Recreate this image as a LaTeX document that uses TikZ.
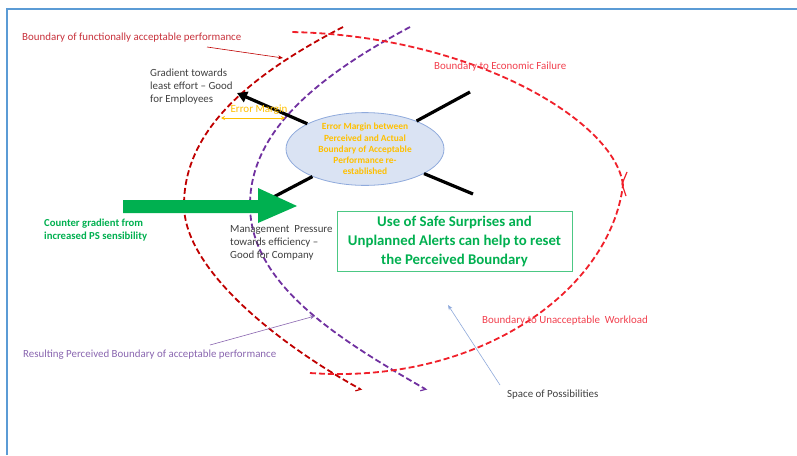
\documentclass[tikz,border=0pt]{standalone}
\usepackage{fontspec}
\setmainfont{Carlito}
\usetikzlibrary{arrows.meta,shapes.geometric}
\definecolor{dred}{HTML}{C00000}
\definecolor{dredtxt}{HTML}{C8323C}
\definecolor{bred}{HTML}{F0202A}
\definecolor{bredtxt}{HTML}{F2404E}
\definecolor{purp}{HTML}{7030A0}
\definecolor{purptxt}{HTML}{8A66B0}
\definecolor{gold}{HTML}{FFC000}
\definecolor{grn}{HTML}{00B050}
\definecolor{gtxt}{HTML}{404040}
\definecolor{bord}{HTML}{5B9BD5}
\definecolor{ellfill}{HTML}{DAE3F3}
\definecolor{elldraw}{HTML}{8FAADC}
\definecolor{lblue}{HTML}{8EA9DB}
\tikzset{
  dashcurve/.style={line width=1.8pt, dash pattern=on 6pt off 3pt, line cap=butt},
  harp/.style={-{Straight Barb[harpoon,swap,length=4pt,width=8pt,line width=1.2pt]}},
  spoke/.style={black, line width=3.2pt},
  lbl/.style={inner sep=0pt, anchor=west, font=\fontsize{10.9}{13}\selectfont},
  graytxt/.style={inner sep=0pt, align=left, text=gtxt, font=\fontsize{10.9}{13}\selectfont},
  thinarrow/.style={line width=0.6pt, -{Stealth[length=5pt,width=4pt]}}
}
\begin{document}
\begin{tikzpicture}[x=1pt,y=-1pt]
\useasboundingbox (0,0) rectangle (797,455);
\fill[white] (0,0) rectangle (797,455);
% frame
\draw[bord, line width=1.8pt] (7,455) -- (7,9) -- (797,9);

% curves
\draw[dred, dashcurve, harp] (343,27) .. controls (250,75) and (184,130) .. (184,205) .. controls (184,270) and (280,345) .. (362,390);
\draw[purp, dashcurve, harp] (410,27) .. controls (320,75) and (250,130) .. (250,205) .. controls (250,285) and (340,340) .. (427,390);
\draw[bred, dashcurve] (310,373) .. controls (480,385) and (610,290) .. (623,185);
\draw[bred, dashcurve] (623,185) .. controls (615,120) and (470,35) .. (290,32);
\draw[bred, line width=1.2pt] (627,172) -- (622,184) -- (626,196);

% ellipse
\node[ellipse, draw=elldraw, fill=ellfill, line width=0.8pt, minimum width=158pt, minimum height=72pt, inner sep=0pt, align=center, text=gold, font=\bfseries\fontsize{9.4}{11.2}\selectfont] (ell) at (365,149) {Error Margin between\\Perceived and Actual\\Boundary of Acceptable\\Performance re-\\established};

% spoke ends
\coordinate (nwend) at (237,93);
\coordinate (neend) at (470,92);
\coordinate (seend) at (473,194);
\coordinate (swend) at (245,212);
\draw[spoke, -{Triangle[length=10pt,width=11pt]}] (ell) -- (nwend);
\draw[spoke] (ell) -- (neend);
\draw[spoke] (ell) -- (seend);
\draw[spoke, -{Triangle[length=10pt,width=11pt]}] (ell) -- (swend);

% green arrow
\fill[grn] (123,200) -- (258,200) -- (258,188) -- (297,206) -- (258,223) -- (258,213) -- (123,213) -- cycle;

% texts
\node[lbl, text=dredtxt] (lfa) at (22,38) {Boundary of functionally acceptable performance};
\coordinate (lfa1) at (207,47);
\coordinate (lfa2) at (283,58);
\draw[dred, thinarrow] (lfa1) -- (lfa2);

\node[lbl, text=bredtxt] (lef) at (434,67) {Boundary to Economic Failure};
\node[lbl, text=bredtxt] (luw) at (482,321) {Boundary to Unacceptable\ \ Workload};

\node[lbl, text=purptxt] (lrp) at (23,355) {Resulting Perceived Boundary of acceptable performance};
\coordinate (lrp1) at (210,345);
\coordinate (lrp2) at (315,316);
\draw[purptxt, thinarrow] (lrp1) -- (lrp2);

\node[lbl, text=gtxt] (lsp) at (507,395) {Space of Possibilities};
\coordinate (lsp1) at (500,385);
\coordinate (lsp2) at (448,305);
\draw[lblue, thinarrow] (lsp1) -- (lsp2);

\node[graytxt, anchor=north west] (grad) at (150,69) {Gradient towards\\least effort -- Good\\for Employees};
\node[graytxt, anchor=north west] (mgmt) at (230,225) {Management\ \ Pressure\\towards efficiency --\\Good for Company};

\node[inner sep=0pt, text=gold, font=\fontsize{11}{12}\selectfont] (em) at (259,110) {Error Margin};
\coordinate (em1) at (221,118);
\coordinate (em2) at (285,118);
\draw[gold, line width=0.8pt, {Stealth[length=4pt,width=4pt]}-{Stealth[length=4pt,width=4pt]}] (em1) -- (em2);

\node[inner sep=0pt, anchor=north west, align=left, text=grn, font=\bfseries\fontsize{10.7}{13}\selectfont] (cg) at (44,219) {Counter gradient from\\increased PS sensibility};

\node[draw=grn!70, line width=0.8pt, minimum width=235pt, minimum height=60pt, inner sep=0pt, align=center, text=grn, font=\bfseries\fontsize{14.8}{19}\selectfont] (box) at (454.5,241) {Use of Safe Surprises and\\Unplanned Alerts can help to reset\\the Perceived Boundary};
\end{tikzpicture}
\end{document}
